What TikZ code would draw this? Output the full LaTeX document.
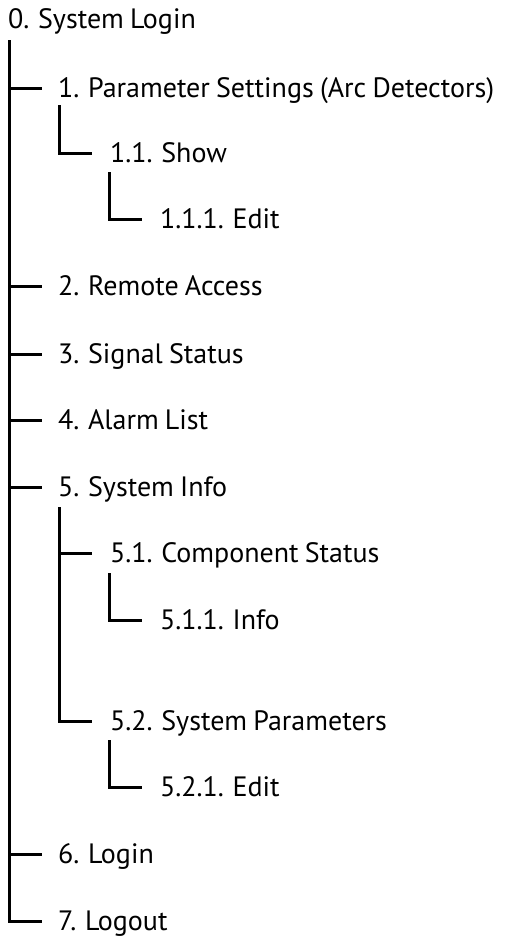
\documentclass[tikz,border=0pt]{standalone}
\usepackage{fontspec}
\setmainfont{PT Sans}
\usetikzlibrary{positioning}
% entry font with tighter word spaces
\newcommand{\menufont}{\fontsize{28}{30}\selectfont\spaceskip 0.22em\relax}
\tikzset{x=1pt, y=-1pt,
item/.style={ % menu entry, west anchor sits at mid cap height
anchor=west,
inner sep=0pt,
text height=18pt,
text depth=0pt,
font=\menufont},
branch/.style={ % tree lines
draw,
line width=3pt}}

\begin{document}
\begin{tikzpicture}
	\useasboundingbox (0,0) rectangle (507,937);
	% menu entries
	\node[item] (m0) at (8,19) {0. System Login};
	\node[item] (m1) at (58,88) {1. Parameter Settings (Arc Detectors)};
	\node[item] (m11) at (110,153) {1.1. Show};
	\node[item] (m111) at (160,219) {1.1.1. Edit};
	\node[item] (m2) at (58,286) {2. Remote Access};
	\node[item] (m3) at (58,354) {3. Signal Status};
	\node[item] (m4) at (58,420) {4. Alarm List};
	\node[item] (m5) at (58,487) {5. System Info};
	\node[item] (m51) at (110,553) {5.1. Component Status};
	\node[item] (m511) at (160,620) {5.1.1. Info};
	\node[item] (m52) at (110,721) {5.2. System Parameters};
	\node[item] (m521) at (160,787) {5.2.1. Edit};
	\node[item] (m6) at (58,854) {6. Login};
	\node[item] (m7) at (58,921) {7. Logout};
	% tops of the vertical lines
	\coordinate (t0) at (9,40);
	\coordinate (t1) at (59,105);
	\coordinate (t11) at (109,172);
	\coordinate (t5) at (59,507);
	\coordinate (t51) at (109,573);
	\coordinate (t52) at (109,740);
	% main trunk
	\draw[branch] (t0) |- ([xshift=-16pt]m7.west);
	\foreach \m in {m1,m2,m3,m4,m5,m6}
		\draw[branch] (t0 |- \m.west) -- ([xshift=-16pt]\m.west);
	% sub trees
	\draw[branch] (t1) |- ([xshift=-18pt]m11.west);
	\draw[branch] (t11) |- ([xshift=-18pt]m111.west);
	\draw[branch] (t5) |- ([xshift=-18pt]m52.west);
	\draw[branch] (t5 |- m51.west) -- ([xshift=-18pt]m51.west);
	\draw[branch] (t51) |- ([xshift=-18pt]m511.west);
	\draw[branch] (t52) |- ([xshift=-18pt]m521.west);
\end{tikzpicture}
\end{document}
